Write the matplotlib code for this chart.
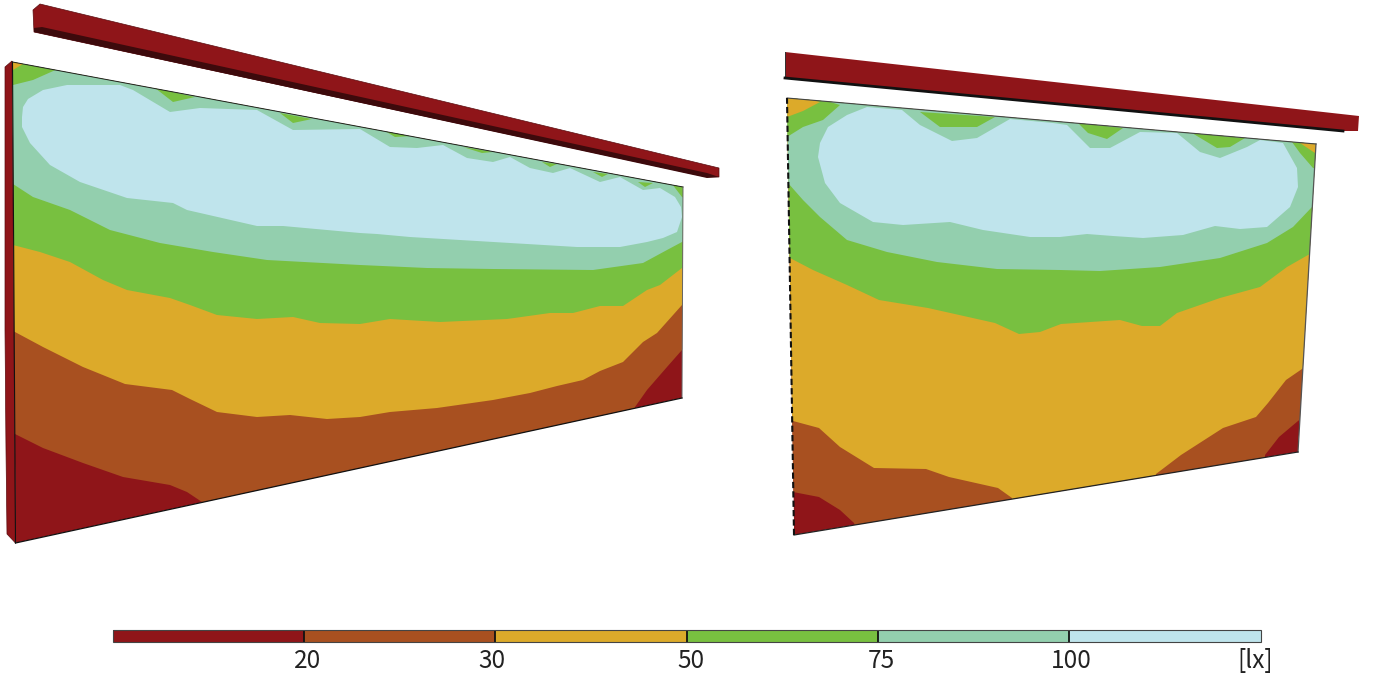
import matplotlib
matplotlib.use('Agg')
import matplotlib.pyplot as plt
from matplotlib.colors import ListedColormap, BoundaryNorm
from matplotlib.cm import ScalarMappable
from matplotlib.patches import Polygon
from matplotlib.transforms import ScaledTranslation

plt.rcParams['font.family'] = ['Noto Sans CJK JP', 'DejaVu Sans']

# colour scale
levels = [10, 20, 30, 50, 75, 100, 150]
level_labels = ['', '20', '30', '50', '75', '100', '[lx]']
label_shift = [0, 4, -3, 4, 3, 2, -5]
red, brown, yellow, green, mint, light = '#8f1519', '#a85020', '#dcaa2a', '#78c040', '#93cfae', '#bfe4ec'
colors = [red, brown, yellow, green, mint, light]

# left wall, outline and iso-lux lines (px)
left_wall = [(12.5, 62), (683, 187), (682, 398), (15.5, 543)]
left_strip = [(5, 67), (12, 61), (15.5, 543), (7, 534), (6, 450), (5, 330)]
left_b20 = [(0, 430), (15, 434), (43, 448), (83, 463), (123, 477), (170, 485), (187, 492), (202, 502), (202, 512),
            (635, 416), (635, 407), (647, 390), (667, 367), (682, 350), (700, 335)]
left_b30 = [(0, 325), (15, 332), (43, 347), (83, 367), (125, 384), (172, 390), (190, 399), (217, 412), (257, 417),
            (290, 415), (327, 419), (360, 417), (390, 412), (437, 408), (493, 400), (530, 393), (557, 386),
            (583, 380), (600, 371), (623, 362), (643, 342), (657, 333), (682, 305), (700, 290)]
left_b50 = [(0, 242), (13, 245), (40, 252), (70, 262), (103, 280), (127, 290), (170, 298), (190, 305), (217, 315),
            (257, 319), (293, 317), (320, 323), (360, 324), (390, 319), (440, 322), (507, 319), (550, 313),
            (573, 313), (600, 306), (623, 306), (647, 290), (660, 285), (682, 268), (700, 255)]
left_b75 = [(0, 176), (13, 184), (33, 197), (70, 210), (110, 230), (160, 243), (213, 252), (267, 260), (360, 265),
            (427, 268), (493, 269), (593, 270), (643, 263), (667, 250), (682, 242), (700, 232)]
left_notches = [
    [(0, 50), (60, 68), (33, 80), (13, 85), (0, 88)],
    [(155, 88), (173, 102), (195, 97)],
    [(280, 113), (293, 123), (312, 119)],
    [(385, 131), (395, 137), (412, 136)],
    [(463, 147), (482, 153), (493, 152)],
    [(542, 162), (550, 167), (557, 164)],
    [(593, 172), (602, 177), (608, 174)],
    [(638, 182), (645, 187), (653, 183)],
    [(672, 184), (690, 186), (690, 200), (682, 197)],
]
left_corner = [(5, 55), (23, 64), (13, 70), (5, 72)]
left_blob = [(22, 117), (23, 107), (28, 99), (43, 90), (67, 85), (120, 85), (133, 90), (170, 112), (200, 108),
             (257, 110), (293, 130), (360, 129), (390, 147), (417, 148), (443, 145), (467, 158), (493, 162),
             (510, 157), (530, 168), (553, 173), (570, 168), (600, 182), (620, 177), (643, 190), (660, 188),
             (675, 197), (681, 207), (682, 217), (677, 232), (663, 238), (647, 242), (620, 247), (577, 247),
             (527, 244), (460, 240), (410, 237), (377, 234), (360, 233), (283, 226), (257, 226), (187, 210),
             (173, 203), (127, 198), (80, 182), (50, 165), (30, 143), (22, 127)]
left_beam = [(33, 10), (40, 4), (719, 168), (719, 177), (707, 177), (34, 32)]
left_beam_under = [(34, 28), (42, 27), (707, 173), (719, 177), (707, 178), (34, 32)]

# right wall
right_wall = [(787, 98), (1316, 144), (1298, 452), (794, 535)]
right_b20 = [(770, 488), (793, 492), (819, 497), (840, 510), (854, 523), (860, 540),
             (1265, 470), (1265, 455), (1279, 437), (1298, 421), (1320, 405)]
right_b30 = [(770, 415), (793, 421), (819, 428), (840, 447), (874, 468), (926, 469), (949, 477), (998, 488),
             (1012, 498), (1012, 510), (1156, 490), (1156, 474), (1181, 455), (1223, 428), (1256, 417), (1268, 403),
             (1286, 380), (1302, 369), (1325, 355)]
right_b50 = [(770, 250), (790, 258), (813, 270), (847, 285), (879, 300), (928, 308), (995, 323), (1019, 334),
             (1040, 332), (1061, 324), (1120, 320), (1142, 326), (1160, 326), (1177, 313), (1220, 298), (1260, 287),
             (1287, 267), (1308, 255), (1330, 245)]
right_b75 = [(770, 165), (788, 183), (803, 200), (820, 217), (847, 240), (887, 252), (937, 262), (997, 269),
             (1060, 270), (1100, 271), (1160, 267), (1220, 258), (1267, 243), (1293, 227), (1312, 207), (1330, 190)]
right_notches = [
    [(775, 85), (840, 105), (823, 120), (803, 127), (787, 137), (775, 140)],
    [(920, 112), (940, 127), (977, 127), (995, 117)],
    [(1078, 123), (1088, 133), (1107, 139), (1123, 128)],
    [(1192, 133), (1217, 148), (1230, 147), (1245, 138)],
    [(1292, 142), (1300, 153), (1313, 168), (1325, 170), (1325, 140)],
]
right_corners = [[(775, 90), (820, 102), (803, 111), (787, 117), (775, 120)],
                 [(1300, 143), (1315, 153), (1325, 153), (1325, 140)]]
right_blob = [(818, 157), (820, 143), (828, 127), (847, 115), (867, 107), (902, 110), (920, 125), (952, 141),
              (977, 138), (1010, 119), (1053, 123), (1067, 125), (1090, 148), (1110, 148), (1140, 132), (1177, 133),
              (1200, 152), (1220, 158), (1247, 147), (1260, 140), (1283, 143), (1297, 168), (1298, 187), (1290, 207),
              (1267, 227), (1240, 229), (1215, 226), (1183, 235), (1143, 238), (1113, 236), (1087, 234), (1060, 237),
              (1030, 237), (983, 230), (950, 222), (903, 225), (873, 222), (840, 203), (825, 183)]
right_beam = [(785, 52), (1359, 116), (1358, 131), (1343, 131), (785, 78)]


def draw_wall(ax, wall, lines, notches, corners, blob):
    outline = Polygon(wall, closed=True, transform=ax.transData)
    shapes = [(wall, red)]
    for line, col in zip(lines, colors[1:5]):
        top = [(line[-1][0], 0), (line[0][0], 0)]
        shapes.append((line + top, col))
    for n in notches:
        shapes.append((n, green))
    for c in corners:
        shapes.append((c, yellow))
    shapes.append((blob, light))
    for pts, col in shapes:
        p = ax.add_patch(Polygon(pts, closed=True, facecolor=col, edgecolor='none'))
        p.set_clip_path(outline)


fig = plt.figure(figsize=(13.88, 6.75), dpi=100)
ax = fig.add_axes([0, 0, 1, 1])
ax.set_xlim(0, 1388)
ax.set_ylim(675, 0)
ax.axis('off')

# left
ax.add_patch(Polygon(left_strip, closed=True, facecolor=red, edgecolor='#5a0c0f', lw=0.5))
draw_wall(ax, left_wall, [left_b20, left_b30, left_b50, left_b75], left_notches, [left_corner], left_blob)
ax.add_patch(Polygon(left_beam, closed=True, facecolor=red, edgecolor='#5a0c0f', lw=0.5))
ax.add_patch(Polygon(left_beam_under, closed=True, facecolor='#3d0a0c', edgecolor='none'))
ax.plot([left_wall[0][0], left_wall[1][0]], [left_wall[0][1], left_wall[1][1]], color='#222222', lw=0.7)
ax.plot([left_wall[1][0], left_wall[2][0]], [left_wall[1][1], left_wall[2][1]], color='#666666', lw=0.7)
ax.plot([left_wall[2][0], left_wall[3][0]], [left_wall[2][1], left_wall[3][1]], color='#111111', lw=0.9)
ax.plot([left_wall[3][0], left_wall[0][0]], [left_wall[3][1], left_wall[0][1]], color='#111111', lw=0.8)

# right
draw_wall(ax, right_wall, [right_b20, right_b30, right_b50, right_b75], right_notches, right_corners, right_blob)
ax.add_patch(Polygon(right_beam, closed=True, facecolor=red, edgecolor='none'))
ax.plot([right_beam[0][0], right_beam[4][0]], [right_beam[0][1], right_beam[4][1]], color='#333333', lw=0.7)
ax.plot([right_beam[4][0], right_beam[3][0]], [right_beam[4][1], right_beam[3][1]], color='#111111', lw=2)
ax.plot([right_wall[0][0], right_wall[1][0]], [right_wall[0][1], right_wall[1][1]], color='#444444', lw=0.8)
ax.plot([right_wall[1][0], right_wall[2][0]], [right_wall[1][1], right_wall[2][1]], color='#555555', lw=0.9)
ax.plot([right_wall[2][0], right_wall[3][0]], [right_wall[2][1], right_wall[3][1]], color='#222222', lw=0.9)
ax.plot([right_wall[3][0], right_wall[0][0]], [right_wall[3][1], right_wall[0][1]], color='#111111', lw=1.5,
        ls=(0, (3, 1.5)))

# colour bar
cax = fig.add_axes([112.5 / 1388, (675 - 642) / 675, 1148 / 1388, 12 / 675])
norm = BoundaryNorm(levels, len(colors))
sm = ScalarMappable(norm=norm, cmap=ListedColormap(colors))
cb = fig.colorbar(sm, cax=cax, orientation='horizontal', spacing='uniform', drawedges=True, ticks=levels)
cb.set_ticklabels(level_labels)
cb.dividers.set_color('#111111')
cb.dividers.set_linewidth(1.3)
cb.outline.set_edgecolor('#444444')
cb.outline.set_linewidth(0.8)
cax.tick_params(length=0, pad=4.5, labelsize=17.6, labelcolor='#222222')
for lab, dx in zip(cax.get_xticklabels(), label_shift):
    lab.set_transform(lab.get_transform() + ScaledTranslation(dx / 100, 0, fig.dpi_scale_trans))

fig.savefig('out.png', dpi=100)
